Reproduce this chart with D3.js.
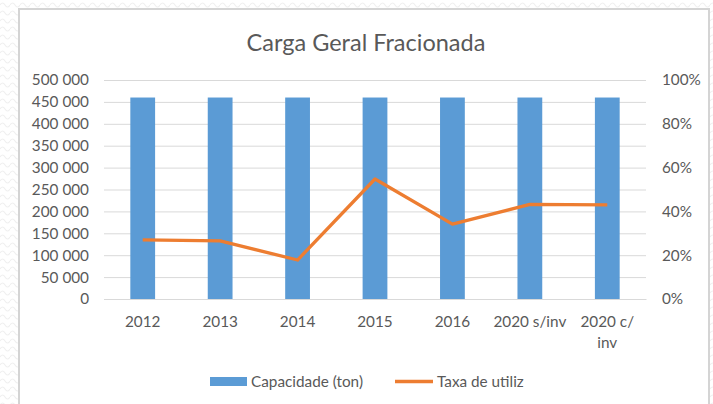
<!DOCTYPE html>
<html><head><meta charset="utf-8">
<script src="https://cdn.jsdelivr.net/npm/d3@7"></script>
<style>html,body{margin:0;padding:0;background:#fff;}svg{display:block;}</style>
</head><body>
<script>
const categories = ["2012","2013","2014","2015","2016","2020 s/inv","2020 c/inv"];
const capacidade = [460000,460000,460000,460000,460000,460000,460000];
const taxa = [0.27,0.265,0.178,0.548,0.342,0.432,0.43];
const leftTicks = [0,50000,100000,150000,200000,250000,300000,350000,400000,450000,500000];
const rightTicks = [0,0.2,0.4,0.6,0.8,1.0];
const title = "Carga Geral Fracionada";
const seriesNames = ["Capacidade (ton)","Taxa de utiliz"];

const W=713,H=404;
const font="Lato, 'Open Sans', sans-serif";
const textColor="#595959";
const fs="15.3px";
const svg=d3.select("body").append("svg").attr("width",W).attr("height",H);

// background pattern
const defs=svg.append("defs");
const pat=defs.append("pattern").attr("id","wave").attr("width",10).attr("height",8).attr("patternUnits","userSpaceOnUse");
pat.append("path").attr("d","M0 5 Q2.5 1 5 5 T10 5").attr("fill","none").attr("stroke","#f0f0f0").attr("stroke-width",1.2);
svg.append("rect").attr("width",W).attr("height",H).attr("fill","url(#wave)");

// chart frame
svg.append("rect").attr("x",19).attr("y",9).attr("width",690).attr("height",H).attr("fill","#fff").attr("stroke","#d4d4d4").attr("stroke-width",2);

const plot={left:104,right:646,top:80,bottom:299};
const x=d3.scaleBand().domain(categories).range([plot.left,plot.right]).paddingInner(0.68).paddingOuter(0.34);
const yL=d3.scaleLinear().domain([0,500000]).range([plot.bottom,plot.top]);
const yR=d3.scaleLinear().domain([0,1]).range([plot.bottom,plot.top]);

// gridlines
svg.append("g").selectAll("line").data(leftTicks).join("line")
  .attr("x1",plot.left).attr("x2",plot.right)
  .attr("y1",d=>yL(d)+0.5).attr("y2",d=>yL(d)+0.5)
  .attr("stroke","#d9d9d9").attr("stroke-width",1);

// left axis
const fmt=d=>d===0?"0":d3.format(",")(d).replace(/,/g," ");
const axL=svg.append("g").attr("transform",`translate(${plot.left},0)`)
  .call(d3.axisLeft(yL).tickValues(leftTicks).tickFormat(fmt).tickSize(0).tickPadding(15));
axL.select(".domain").remove();
axL.selectAll("text").attr("fill",textColor).style("font-family",font).style("font-size",fs);

// right axis
const axR=svg.append("g").attr("transform",`translate(${plot.right},0)`)
  .call(d3.axisRight(yR).tickValues(rightTicks).tickFormat(d3.format(".0%")).tickSize(0).tickPadding(16));
axR.select(".domain").remove();
axR.selectAll("text").attr("fill",textColor).style("font-family",font).style("font-size",fs);

// bars
svg.append("g").selectAll("rect").data(categories).join("rect")
  .attr("x",d=>x(d)).attr("width",x.bandwidth())
  .attr("y",(d,i)=>yL(capacidade[i])).attr("height",(d,i)=>yL(0)-yL(capacidade[i]))
  .attr("fill","#5B9BD5");

// x axis
const axX=svg.append("g").attr("transform",`translate(0,${plot.bottom})`)
  .call(d3.axisBottom(x).tickSize(0).tickPadding(0).tickFormat(""));
axX.select(".domain").attr("stroke","#d9d9d9");
const xl=svg.append("g");
categories.forEach(c=>{
  const cx=x(c)+x.bandwidth()/2;
  const parts = c==="2020 c/inv" ? ["2020 c/","inv"] : [c];
  parts.forEach((p,j)=>{
    xl.append("text").attr("x",cx).attr("y",327+j*21).attr("text-anchor","middle")
      .attr("fill",textColor).style("font-family",font).style("font-size",fs).text(p);
  });
});

// line
const line=d3.line().x((d,i)=>x(categories[i])+x.bandwidth()/2).y(d=>yR(d));
svg.append("path").datum(taxa).attr("d",line).attr("fill","none")
  .attr("stroke","#ED7D31").attr("stroke-width",3.3).attr("stroke-linejoin","round");

// title
svg.append("text").attr("x",366).attr("y",51).attr("text-anchor","middle")
  .attr("fill",textColor).style("font-family",font).style("font-size","23.5px").text(title);

// legend
const lg=svg.append("g");
lg.append("rect").attr("x",210).attr("y",377).attr("width",37).attr("height",9).attr("fill","#5B9BD5");
lg.append("text").attr("x",251).attr("y",387).attr("fill",textColor).style("font-family",font).style("font-size",fs).text(seriesNames[0]);
lg.append("line").attr("x1",395).attr("x2",433).attr("y1",381.5).attr("y2",381.5).attr("stroke","#ED7D31").attr("stroke-width",3.3);
lg.append("text").attr("x",437).attr("y",387).attr("fill",textColor).style("font-family",font).style("font-size",fs).text(seriesNames[1]);
</script>
</body></html>
